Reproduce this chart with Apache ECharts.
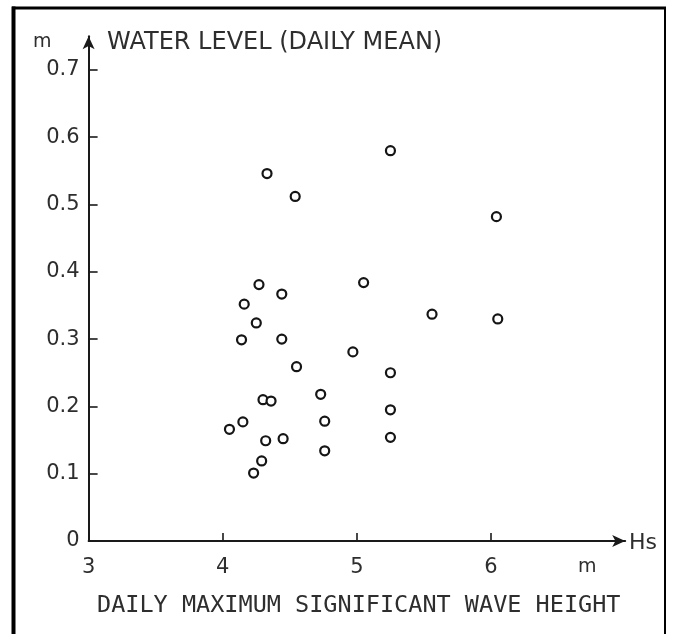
<!DOCTYPE html>
<html>
<head>
<meta charset="utf-8">
<script src="https://cdn.jsdelivr.net/npm/echarts@6/dist/echarts.min.js"></script>
<style>
  html, body { margin: 0; padding: 0; background: #fff; }
  #chart { width: 675px; height: 634px; }
</style>
</head>
<body>
<div id="chart"></div>
<script>
// Daily maximum significant wave height Hs (m) vs daily mean water level (m)
const waveHeight = [
  4.33, 4.54, 5.25, 6.04, 4.27, 4.44, 4.16, 4.25, 4.14, 4.44,
  5.05, 5.56, 6.05, 4.97, 4.55, 5.25, 4.73, 4.30, 4.36, 5.25,
  4.05, 4.15, 4.76, 4.32, 4.45, 5.25, 4.76, 4.29, 4.23
];
const waterLevel = [
  0.546, 0.512, 0.580, 0.482, 0.381, 0.367, 0.352, 0.324, 0.299, 0.300,
  0.384, 0.337, 0.330, 0.281, 0.259, 0.250, 0.218, 0.210, 0.208, 0.195,
  0.166, 0.177, 0.178, 0.149, 0.152, 0.154, 0.134, 0.119, 0.101
];
const xTicks = [3, 4, 5, 6];
const yTicks = [0, 0.1, 0.2, 0.3, 0.4, 0.5, 0.6, 0.7];

const ink = '#1a1a1a';
const textInk = '#2e2e2e';
const labelFont = 'DejaVu Sans';

const points = waveHeight.map((h, i) => [h, waterLevel[i]]);

const chart = echarts.init(document.getElementById('chart'), null, { renderer: 'canvas' });

chart.setOption({
  backgroundColor: '#ffffff',
  animation: false,
  grid: { left: 88.6, top: 36.3, width: 536.6, height: 504.7 },
  xAxis: {
    type: 'value',
    min: 3,
    max: 7,
    splitLine: { show: false },
    axisLine: {
      show: true,
      symbol: ['none', 'arrow'],
      symbolSize: [9, 13],
      lineStyle: { color: ink, width: 2 }
    },
    axisTick: {
      show: true, inside: true, length: 8,
      customValues: xTicks,
      lineStyle: { color: ink, width: 1.6 }
    },
    axisLabel: {
      customValues: xTicks,
      margin: 16,
      color: textInk,
      fontFamily: labelFont,
      fontSize: 21,
      formatter: v => String(v)
    }
  },
  yAxis: {
    type: 'value',
    min: 0,
    max: 0.75,
    splitLine: { show: false },
    axisLine: {
      show: true,
      symbol: ['none', 'arrow'],
      symbolSize: [9, 13],
      lineStyle: { color: ink, width: 2 }
    },
    axisTick: {
      show: true, inside: true, length: 9,
      customValues: yTicks,
      lineStyle: { color: ink, width: 1.6 }
    },
    axisLabel: {
      customValues: yTicks,
      margin: 9,
      color: textInk,
      fontFamily: labelFont,
      fontSize: 21,
      formatter: v => (v === 0 ? '0' : v.toFixed(1))
    }
  },
  series: [{
    type: 'scatter',
    data: points,
    symbol: 'circle',
    symbolSize: 9,
    itemStyle: { color: '#ffffff', borderColor: '#151515', borderWidth: 2.2, opacity: 1 }
  }],
  graphic: [
    // page frame
    { type: 'line', shape: { x1: 13.5, y1: 6.5, x2: 13.5, y2: 634 }, style: { stroke: '#000', lineWidth: 4 } },
    { type: 'line', shape: { x1: 12, y1: 8, x2: 666, y2: 8 }, style: { stroke: '#000', lineWidth: 3 } },
    { type: 'line', shape: { x1: 665, y1: 7, x2: 665, y2: 634 }, style: { stroke: '#000', lineWidth: 2 } },
    // axis captions
    { type: 'text', left: 33, top: 33, style: { text: 'm', fill: textInk, font: '19px DejaVu Sans' } },
    { type: 'text', left: 107, top: 31, style: { text: 'WATER LEVEL (DAILY MEAN)', fill: textInk, font: '24px DejaVu Sans' } },
    { type: 'text', left: 629, top: 532, style: { text: 'Hs', fill: textInk, font: '22px DejaVu Sans' } },
    { type: 'text', left: 578, top: 558, style: { text: 'm', fill: textInk, font: '19px DejaVu Sans' } },
    { type: 'text', left: 97, top: 594, style: { text: 'DAILY MAXIMUM SIGNIFICANT WAVE HEIGHT', fill: textInk, font: '23.5px DejaVu Sans Mono' } }
  ]
});
</script>
</body>
</html>
